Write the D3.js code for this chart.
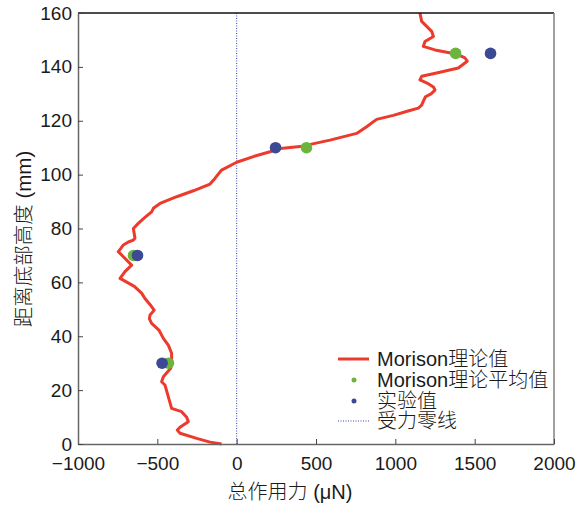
<!DOCTYPE html>
<html><head><meta charset="utf-8">
<script src="https://cdn.jsdelivr.net/npm/d3@7"></script>
<style>
body{margin:0;background:#fff;}
text{font-family:"Liberation Sans","Noto Sans CJK SC",sans-serif;fill:#1a1a1a;}
</style></head>
<body>
<svg id="c" width="587" height="505"></svg>
<script>
// Theoretical Morison curve: height (mm) and force (μN)
const curveHeight = [0,0.7,2.1,4,5.2,6.2,8.3,9.9,12,13.2,17.6,21.9,23.1,25,28.1,30,33.7,36.7,39.2,42.3,44.8,46.5,47.9,49.7,51.3,54,56,58.5,61.5,64,66.4,69.5,71.4,72.6,73.9,75,75.7,76.4,80,81.9,84,86.2,87.5,89.3,91.8,94,96.5,98.6,101.7,104.6,106.8,108.5,109.6,110.4,112.8,115.3,117.8,120.5,122,123.6,124.7,125.8,127.2,128.9,130,131.4,132.5,134,135.2,136.5,137.7,139.6,142.1,143.3,144.8,146.3,147.6,149.4,151.3,153.2,156.9,160];
const curveForce  = [-95,-168,-252,-357,-374,-357,-305,-315,-347,-410,-431,-452,-473,-462,-416,-410,-410,-431,-462,-490,-536,-550,-546,-520,-540,-578,-599,-645,-735,-704,-662,-714,-746,-730,-714,-683,-651,-641,-651,-620,-580,-536,-525,-483,-378,-273,-168,-137,-95,0,110,210,260,399,588,756,819,882,987,1080,1145,1166,1176,1190,1225,1250,1240,1200,1155,1166,1260,1397,1453,1439,1382,1250,1176,1187,1240,1229,1166,1155];
// Morison theoretical mean values
const meanHeight = [30,70,110,145];
const meanForce  = [-430,-650,440,1380];
// Experimental values
const expHeight = [30,70,110,145];
const expForce  = [-470,-625,245,1600];
// Ticks
const xTicks = [-1000,-500,0,500,1000,1500,2000];
const yTicks = [0,20,40,60,80,100,120,140,160];
const legendLabels = ["Morison理论值","Morison理论平均值","实验值","受力零线"];

const svg = d3.select("#c");
const L=78, R=554, T=13, B=444;
const x = d3.scaleLinear().domain([-1000,2000]).range([L,R]);
const y = d3.scaleLinear().domain([0,160]).range([B,T]);

const red="#ec3a2d", green="#6cb43c", blue="#3c4a95";

// zero line
svg.append("line").attr("x1",x(0)).attr("x2",x(0)).attr("y1",y(0)).attr("y2",y(160))
  .attr("stroke","#3344aa").attr("stroke-width",1).attr("stroke-dasharray","1,1.5");

// curve
const pts = curveHeight.map((h,i)=>[curveForce[i],h]);
svg.append("path").datum(pts)
  .attr("d", d3.line().x(d=>x(d[0])).y(d=>y(d[1])))
  .attr("fill","none").attr("stroke",red).attr("stroke-width",3).attr("stroke-linejoin","round");

// dots
svg.selectAll(".m").data(meanHeight).enter().append("circle")
  .attr("cx",(d,i)=>x(meanForce[i])).attr("cy",d=>y(d)).attr("r",5.8).attr("fill",green);
svg.selectAll(".e").data(expHeight).enter().append("circle")
  .attr("cx",(d,i)=>x(expForce[i])).attr("cy",d=>y(d)).attr("r",5.8).attr("fill",blue);

// frame
svg.append("line").attr("x1",L).attr("x2",R).attr("y1",T).attr("y2",T).attr("stroke","#111").attr("stroke-width",1.5);
svg.append("line").attr("x1",R).attr("x2",R).attr("y1",T).attr("y2",B).attr("stroke","#808080").attr("stroke-width",1.5);

// axes
const xa = svg.append("g").attr("transform",`translate(0,${B})`)
  .call(d3.axisBottom(x).tickValues(xTicks).tickSizeInner(-5).tickSizeOuter(0).tickPadding(13)
    .tickFormat(d=>d<0?"\u2212"+Math.abs(d):String(d)));
const ya = svg.append("g").attr("transform",`translate(${L},0)`)
  .call(d3.axisLeft(y).tickValues(yTicks).tickSizeInner(-5).tickSizeOuter(0).tickPadding(6));
[xa,ya].forEach(g=>{
  g.select(".domain").attr("stroke","#666").attr("stroke-width",1.5);
  g.selectAll(".tick line").attr("stroke","#444").attr("stroke-width",1);
  g.selectAll(".tick text").attr("font-size","19px").attr("fill","#1a1a1a")
   .style("font-family","'Liberation Sans',sans-serif");
});

// axis titles
svg.append("text").attr("x",290).attr("y",499).attr("text-anchor","middle")
  .attr("font-size","20px").style("font-weight","300").text("总作用力 (μN)");
svg.append("text").attr("transform","translate(31,239) rotate(-90)").attr("text-anchor","middle")
  .attr("font-size","20.5px").style("font-weight","300").text("距离底部高度 (mm)");

// legend
const ly=[359,380,401,421];
svg.append("line").attr("x1",338).attr("x2",369).attr("y1",ly[0]).attr("y2",ly[0]).attr("stroke",red).attr("stroke-width",3);
svg.append("circle").attr("cx",354).attr("cy",ly[1]).attr("r",2.5).attr("fill",green);
svg.append("circle").attr("cx",354).attr("cy",ly[2]).attr("r",2.5).attr("fill",blue);
svg.append("line").attr("x1",338).attr("x2",369).attr("y1",ly[3]).attr("y2",ly[3]).attr("stroke","#3344aa").attr("stroke-width",1).attr("stroke-dasharray","1,1.5");
legendLabels.forEach((t,i)=>{
  svg.append("text").attr("x",377).attr("y",ly[i]+7).attr("font-size","20px").style("font-weight","300").text(t);
});
</script>
</body></html>
